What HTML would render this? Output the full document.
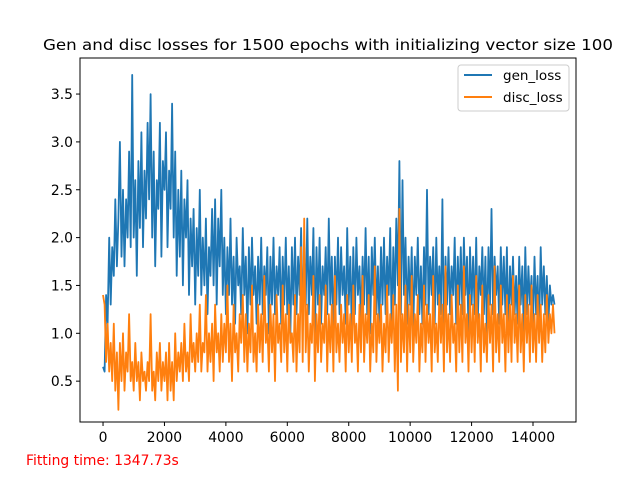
<!DOCTYPE html>
<html><head><meta charset="utf-8"><style>
body{margin:0;background:#fff;}
svg{display:block;font-family:"DejaVu Sans","Liberation Sans",sans-serif;}
</style></head><body>
<svg id="chart" width="640" height="480">
<rect x="0" y="0" width="640" height="480" fill="#fff"/>
<text x="328" y="50" text-anchor="middle" font-size="15" textLength="570" lengthAdjust="spacingAndGlyphs" fill="#000">Gen and disc losses for 1500 epochs with initializing vector size 100</text>
<g id="series"></g>
<g id="axes"></g>
<rect x="80" y="58" width="496" height="364" fill="none" stroke="#000" stroke-width="1"/>
<g>
<rect x="458" y="65" width="111" height="46" rx="3" fill="#fff" fill-opacity="0.8" stroke="#ccc"/>
<line x1="464" y1="75" x2="492" y2="75" stroke="#1f77b4" stroke-width="2"/>
<text x="503" y="80" font-size="13.5">gen_loss</text>
<line x1="464" y1="97" x2="492" y2="97" stroke="#ff7f0e" stroke-width="2"/>
<text x="503" y="102" font-size="13.5">disc_loss</text>
</g>
<text x="26" y="465" font-size="13.9" fill="#ff0000">Fitting time: 1347.73s</text>
</svg>
<script>
const stepSize = 50;
const genLoss = [0.65,0.6,1.4,1.1,2.0,1.3,1.9,1.6,2.4,1.7,
2.2,3.0,1.8,2.5,1.7,2.4,2.0,2.9,1.9,3.7,
2.0,2.6,1.6,2.8,2.1,3.1,1.9,2.7,2.2,3.2,
2.4,3.5,2.0,2.9,1.7,2.6,2.3,3.2,1.8,2.8,
2.5,3.1,1.9,2.7,2.3,3.4,2.0,2.9,1.6,2.5,
1.8,2.7,1.5,2.4,2.0,2.6,1.4,2.2,1.7,2.3,
1.3,2.1,1.6,2.5,1.4,2.0,1.5,2.2,1.2,1.9,
1.6,2.3,1.5,2.4,1.3,2.2,1.7,2.5,1.4,2.0,
1.2,1.9,1.4,2.2,1.3,1.8,1.1,2.0,1.5,1.7,
1.2,2.1,1.4,1.8,1.0,1.9,1.3,2.0,1.4,1.7,
1.1,1.8,1.3,2.0,1.2,1.7,1.4,1.9,1.0,1.8,
1.3,2.0,1.2,1.7,1.4,1.9,1.1,1.8,1.3,2.0,
1.2,1.7,1.0,1.9,1.3,2.0,1.2,1.8,1.4,2.1,
1.1,1.9,1.3,2.2,1.2,1.8,1.4,2.1,1.0,1.9,
1.3,2.0,1.1,1.7,1.4,1.9,1.2,2.2,1.3,1.8,
1.0,1.8,1.3,2.0,1.2,1.9,1.4,1.7,1.1,2.1,
1.3,1.8,1.0,1.9,1.2,2.0,1.4,1.7,1.1,1.8,
1.3,2.1,1.2,1.8,1.0,1.9,1.4,2.0,1.2,1.7,
1.1,1.9,1.3,2.0,1.2,1.8,1.4,2.1,1.0,1.9,
1.3,2.2,1.5,2.8,1.2,2.6,1.4,2.0,1.1,1.8,
1.3,1.9,1.0,1.8,1.4,2.0,1.2,1.7,1.1,1.9,
1.3,2.5,1.2,1.8,1.4,1.9,1.1,2.0,1.3,1.7,
1.2,2.4,1.0,1.8,1.3,1.9,1.2,1.7,1.4,2.0,
1.1,1.8,1.3,1.9,1.2,2.0,1.4,1.8,1.0,1.9,
1.3,1.8,1.2,2.0,1.1,1.7,1.4,1.9,1.2,1.8,
1.0,1.9,1.3,2.3,1.2,1.8,1.4,1.7,1.1,1.9,
1.3,1.8,1.2,1.9,1.0,1.7,1.3,1.8,1.2,1.6,
1.1,1.8,1.3,1.7,1.0,1.9,1.2,1.7,1.3,1.6,
1.1,1.8,1.2,1.6,1.0,1.9,1.3,1.7,1.2,1.6,
1.1,1.5,1.3,1.4,1.3];
const discLoss = [1.4,1.3,0.7,1.1,0.6,0.9,0.5,1.1,0.4,0.8,
0.2,0.9,0.5,1.0,0.4,0.8,0.6,1.2,0.5,0.7,
0.4,0.9,0.5,0.7,0.3,0.8,0.5,0.6,0.4,0.7,
0.5,1.2,0.4,0.6,0.3,0.8,0.5,0.9,0.4,0.7,
0.5,0.8,0.3,0.9,0.4,0.7,0.3,1.0,0.5,0.8,
0.6,0.9,0.5,1.1,0.6,0.8,0.5,1.2,0.7,0.9,
0.6,1.0,0.7,1.3,0.6,0.9,0.8,1.4,0.6,1.0,
0.7,1.1,0.5,1.3,0.8,1.0,0.6,1.2,0.7,1.1,
0.8,1.5,0.7,1.1,0.5,1.3,0.8,1.0,0.6,1.2,
0.9,1.4,0.7,1.2,0.6,1.1,0.8,1.5,0.7,1.0,
0.6,1.3,0.8,1.2,0.7,1.6,0.9,1.1,0.6,1.3,
0.8,1.2,0.5,1.4,0.9,1.1,0.7,1.5,0.8,1.2,
0.6,1.3,0.9,1.0,0.7,1.4,0.6,1.2,0.8,1.9,
0.7,2.2,0.8,1.3,0.6,1.1,0.9,1.6,0.5,1.2,
0.8,1.4,0.7,1.1,0.9,1.5,0.6,1.2,0.8,1.3,
0.6,1.6,0.8,1.1,0.7,1.3,0.9,1.2,0.6,1.4,
0.8,1.2,0.7,1.5,0.9,1.1,0.6,1.3,0.8,1.6,
0.7,1.2,0.9,1.4,0.6,1.1,0.8,1.7,0.7,1.2,
0.9,1.3,0.6,1.1,0.8,1.5,0.7,1.2,0.9,1.4,
0.6,1.3,0.4,2.3,0.7,1.2,0.8,1.5,0.6,1.3,
0.8,1.6,0.7,1.2,0.9,1.4,0.6,1.1,0.8,1.5,
0.7,1.3,0.9,1.2,0.6,1.6,0.8,1.1,0.7,1.4,
0.9,1.3,0.6,1.7,0.8,1.2,0.7,1.4,0.9,1.1,
0.6,1.5,0.8,1.3,0.7,1.7,0.9,1.2,0.6,1.4,
0.8,1.3,0.7,1.6,0.9,1.2,0.6,1.5,0.8,1.1,
0.7,1.4,0.9,1.3,0.6,1.7,0.8,1.2,0.7,1.5,
0.9,1.2,0.6,1.4,0.8,1.3,0.7,1.6,0.9,1.2,
0.7,1.5,0.8,1.2,0.6,1.4,0.9,1.3,0.7,1.5,
0.8,1.2,0.7,1.4,0.9,1.3,0.7,1.2,0.8,1.4,
0.9,1.2,1.0,1.3,1.0];
const xTicks = [0,2000,4000,6000,8000,10000,12000,14000];
const yTicks = [0.5,1.0,1.5,2.0,2.5,3.0,3.5];

const NS = "http://www.w3.org/2000/svg";
function xScale(v){ return 80 + (v + 750) * 496 / 16150; }
function yScale(v){ return 429 - v * 95.7; }

const series = document.getElementById('series');
function drawLine(vals, color, name){
  const p = document.createElementNS(NS,'polyline');
  p.setAttribute('points', vals.map((v,i)=>xScale(i*stepSize).toFixed(1)+','+yScale(v).toFixed(1)).join(' '));
  p.setAttribute('fill','none');
  p.setAttribute('stroke',color);
  p.setAttribute('stroke-width','1.8');
  p.setAttribute('stroke-linejoin','round');
  
  
  series.appendChild(p);
}
drawLine(genLoss,'#1f77b4','gen-loss-line');
drawLine(discLoss,'#ff7f0e','disc-loss-line');

const axes = document.getElementById('axes');
xTicks.forEach(t=>{
  const x = xScale(t);
  const l = document.createElementNS(NS,'line');
  l.setAttribute('x1',x); l.setAttribute('x2',x); l.setAttribute('y1',422); l.setAttribute('y2',426);
  l.setAttribute('stroke','#000');
  
  
  axes.appendChild(l);
  const tx = document.createElementNS(NS,'text');
  tx.setAttribute('x',x); tx.setAttribute('y',442); tx.setAttribute('text-anchor','middle'); tx.setAttribute('font-size','13.9');
  tx.textContent = t;
  
  
  axes.appendChild(tx);
});
yTicks.forEach(t=>{
  const y = yScale(t);
  const l = document.createElementNS(NS,'line');
  l.setAttribute('x1',76); l.setAttribute('x2',80); l.setAttribute('y1',y); l.setAttribute('y2',y);
  l.setAttribute('stroke','#000');
  
  
  axes.appendChild(l);
  const tx = document.createElementNS(NS,'text');
  tx.setAttribute('x',73); tx.setAttribute('y',y+5); tx.setAttribute('text-anchor','end'); tx.setAttribute('font-size','13.9');
  tx.textContent = t.toFixed(1);
  
  
  axes.appendChild(tx);
});
</script>
</body></html>
